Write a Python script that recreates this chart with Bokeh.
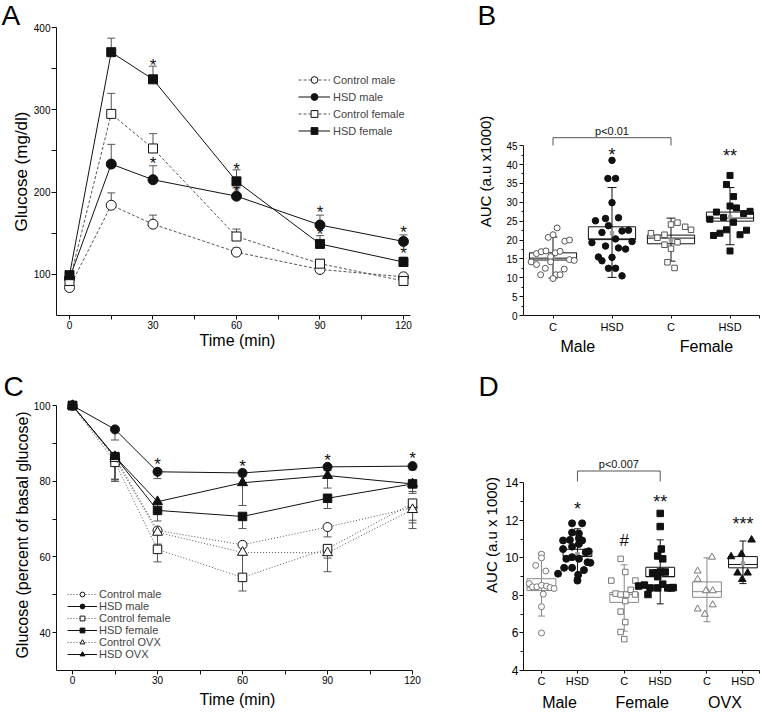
from bokeh.plotting import figure
from bokeh.models import (ColumnDataSource, Whisker, TeeHead, Legend, LegendItem,
                          FixedTicker, LinearAxis, Range1d)
from bokeh.layouts import column, row
from bokeh.embed import file_html
from bokeh.resources import INLINE
from bokeh.core.properties import value

FONT = "Liberation Sans"
BLACK = "#111111"
GRAY = "#555555"
LGRAY = "#888888"

# ---------------- Panel A data (glucose tolerance, mg/dl) ----------------
time_pts = [0, 15, 30, 60, 90, 120]
a_names = ["Control male", "HSD male", "Control female", "HSD female"]
a_ctrl_male = [84, 184, 161, 127, 106, 97]
a_hsd_male = [95, 234, 215, 195, 160, 140]
a_ctrl_female = [92, 295, 253, 146, 113, 92]
a_hsd_female = [99, 370, 337, 213, 137, 115]
a_ctrl_male_err = [0, 15, 11, 5, 3, 3]
a_hsd_male_err = [0, 24, 17, 10, 12, 8]
a_ctrl_female_err = [0, 25, 18, 9, 5, 5]
a_hsd_female_err = [0, 17, 16, 14, 10, 6]
a_star_t = [30, 30, 60, 60, 90, 90, 120, 120]
a_star_y = [358, 238, 231, 204, 179, 152, 155, 129]

# ---------------- Panel B data (AUC x1000) ----------------
b_pos = [1, 2, 3, 4]
b_cat_labels = ["C", "HSD", "C", "HSD"]
b_sex_labels = ["Male", "Female"]
b_sex_label_pos = [1.42, 3.6]
b_q1 = [14.7, 20.1, 19.0, 25.0]
b_q3 = [16.6, 23.5, 21.3, 27.4]
b_median = [15.2, 20.3, 20.5, 25.8]
b_mean = [15.5, 21.8, 19.9, 26.1]
b_lo = [9.9, 10.1, 14.4, 18.75]
b_hi = [20.8, 33.9, 25.8, 33.9]
b_ctrl_male = [23.2, 20.7, 21.4, 19.7, 20.0, 16.4, 16.9, 17.1, 16.6, 17.0, 15.6, 14.2,
               13.5, 14.2, 14.8, 14.6, 12.5, 12.3, 10.8, 10.8, 10.8, 9.8]
b_ctrl_male_jit = [0.07, -0.08, 0.0, 0.2, 0.28, -0.28, -0.2, -0.12, 0.04, 0.12, -0.04, -0.37,
                   -0.28, -0.04, 0.28, 0.36, -0.13, 0.19, -0.21, 0.05, 0.12, 0.0]
b_hsd_male = [41.1, 36.3, 36.3, 29.9, 25.1, 25.7, 25.9, 23.8, 22.0, 22.4, 22.6, 19.3,
              19.6, 20.3, 18.4, 17.9, 17.6, 15.5, 14.5, 15.4, 12.5, 12.5, 10.5]
b_hsd_male_jit = [0.0, -0.07, 0.06, 0.0, -0.28, -0.11, 0.11, -0.06, -0.17, 0.17, 0.28, -0.34,
                  0.34, 0.06, -0.11, 0.11, 0.23, -0.23, -0.17, 0.0, -0.06, 0.06, 0.17]
b_ctrl_female = [21.8, 20.6, 21.4, 24.1, 24.6, 23.5, 22.7, 19.4, 18.75, 17.7, 14.1, 12.6]
b_ctrl_female_jit = [-0.34, -0.23, -0.11, 0.0, 0.11, 0.24, 0.34, 0.11, -0.11, 0.0, -0.06, 0.06]
b_hsd_female = [37.1, 34.7, 31.5, 29.0, 28.5, 25.5, 27.4, 26.0, 24.7, 27.0, 27.6, 21.2,
                21.8, 22.7, 21.4, 22.6, 17.1]
b_hsd_female_jit = [0.0, -0.06, 0.06, 0.0, 0.11, -0.34, -0.23, -0.11, 0.06, 0.23, 0.34, -0.28,
                    -0.17, -0.06, 0.17, 0.28, 0.0]
b_bracket = (1, 3)
b_bracket_y = 47.1
b_bracket_leg = 45.05
b_pvalue = "p<0.01"
b_star_x = [2, 4]
b_star_text = ["*", "**"]
b_star_y = [43.3, 43.0]

# ---------------- Panel C data (% of basal glucose) ----------------
c_names = ["Control male", "HSD male", "Control female", "HSD female", "Control OVX", "HSD OVX"]
c_ctrl_male = [100, 86.5, 67, 63.2, 67.9, 73]
c_hsd_male = [100, 93.7, 82.5, 82.2, 83.8, 84]
c_ctrl_female = [100, 85, 62, 54.6, 62.2, 74.2]
c_hsd_female = [100, 86.5, 72.3, 70.7, 75.5, 79.3]
c_ctrl_ovx = [100, 86, 66.5, 61.2, 61.1, 72.5]
c_hsd_ovx = [100, 86.5, 74.6, 79.6, 81.5, 79.3]
c_ctrl_male_err = [0, 6, 3.6, 2.5, 2.6, 4]
c_hsd_male_err = [0, 2.8, 1.8, 1, 1, 1]
c_ctrl_female_err = [0, 5, 3.3, 3.6, 2.5, 4.5]
c_hsd_female_err = [0, 6, 2.8, 3.2, 2.7, 2]
c_ctrl_ovx_err = [0, 5.5, 4, 6, 5, 5]
c_hsd_ovx_err = [0, 6.5, 3, 6, 3.3, 2.5]
c_star_t = [30, 60, 90, 120]
c_star_y = [85.2, 84.7, 86.3, 86.9]

# ---------------- Panel D data (AUC x1000) ----------------
d_pos = [1, 2, 3.3, 4.3, 5.6, 6.6]
d_cat_labels = ["C", "HSD", "C", "HSD", "C", "HSD"]
d_group_labels = ["Male", "Female", "OVX"]
d_q1 = [8.26, 10.07, 7.63, 9.0, 7.9, 9.47]
d_q3 = [8.89, 10.46, 8.16, 9.5, 8.72, 10.07]
d_median = [8.44, 10.1, 8.05, 9.0, 8.2, 9.65]
d_mean = [8.5, 10.2, 8.0, 9.1, 8.25, 9.7]
d_lo = [6.9, 8.95, 6.1, 7.55, 6.6, 8.63]
d_hi = [10.26, 11.55, 9.63, 10.96, 10.0, 10.9]
d_ctrl_male = [10.2, 10.0, 9.6, 9.3, 8.63, 8.46, 8.46, 8.54, 8.5, 8.42, 8.37, 8.07, 7.4, 6.0]
d_ctrl_male_jit = [0.0, 0.0, -0.16, 0.12, -0.34, -0.25, -0.13, 0.0, 0.14, 0.24, 0.35, 0.05, 0.0, 0.0]
d_hsd_male = [11.84, 11.84, 11.35, 11.3, 10.93, 10.96, 11.04, 10.93, 10.74, 10.47, 10.6, 10.3,
              10.35, 9.95, 10.04, 9.95, 9.77, 9.74, 9.47, 9.47, 9.35, 9.16, 9.1, 8.79]
d_hsd_male_jit = [-0.15, 0.13, -0.15, 0.04, -0.4, -0.21, 0.04, 0.13, 0.04, -0.4, -0.15, 0.23,
                  0.31, -0.31, -0.15, 0.04, 0.28, 0.36, -0.37, -0.15, 0.18, -0.54, 0.02, 0.0]
d_ctrl_female = [9.95, 9.25, 8.79, 8.79, 8.1, 8.05, 8.05, 8.3, 8.05, 7.7, 7.14, 6.58, 6.05, 5.67]
d_ctrl_female_jit = [-0.1, 0.03, -0.36, 0.31, -0.24, -0.1, 0.06, 0.18, 0.3, 0.03, -0.1, 0.03, -0.1, 0.0]
d_hsd_female = [12.37, 11.67, 10.47, 10.1, 9.95, 9.2, 9.2, 9.25, 9.25, 9.0, 8.5, 8.55, 8.4, 8.4,
                8.6, 8.4, 8.4, 8.42, 8.05]
d_hsd_female_jit = [0.0, 0.0, 0.03, -0.07, 0.07, -0.21, -0.09, 0.0, 0.14, -0.07, -0.6, -0.44,
                    -0.28, -0.07, 0.07, 0.21, 0.31, 0.36, -0.34]
d_ctrl_ovx = [10.04, 9.3, 8.86, 8.25, 8.25, 7.28, 7.5, 7.0]
d_ctrl_ovx_jit = [0.14, -0.26, -0.26, -0.03, 0.16, -0.26, 0.16, -0.06]
d_hsd_ovx = [10.07, 10.2, 10.96, 9.2, 9.2, 8.86]
d_hsd_ovx_jit = [-0.33, -0.04, 0.24, -0.15, 0.13, -0.02]
d_bracket = (2, 4.3)
d_bracket_y = 14.63
d_bracket_leg = 14.07
d_pvalue = "p<0.007"
d_star_x = [2, 4.3, 6.6]
d_star_text = ["*", "**", "***"]
d_star_y = [12.79, 13.16, 11.95]
d_hash_x = [3.3]
d_hash_y = [10.95]


# ---------------- helpers ----------------
def new_fig(width, height, xr, yr, left, right, top, bottom, letter, letter_offset, letter_standoff):
    p = figure(width=width, height=height, x_range=Range1d(*xr), y_range=Range1d(*yr),
               min_border_left=left, min_border_right=right, min_border_top=top,
               min_border_bottom=bottom, toolbar_location=None, tools="",
               output_backend="svg", title=letter)
    p.xgrid.visible = False
    p.ygrid.visible = False
    p.outline_line_color = None
    p.background_fill_color = "white"
    p.border_fill_color = "white"
    p.title.text_font = FONT
    p.title.text_font_size = "28px"
    p.title.text_font_style = "normal"
    p.title.text_color = "black"
    p.title.align = "left"
    p.title.offset = letter_offset
    p.title.standoff = letter_standoff
    return p


def style_axis(ax, ticks, minor=None, overrides=None, font_size="10px",
               tick_out=4, minor_out=4, standoff=2, bounds=None):
    ax.ticker = FixedTicker(ticks=list(ticks), minor_ticks=list(minor or []))
    if overrides is not None:
        ax.major_label_overrides = overrides
    if bounds is not None:
        ax.bounds = bounds
    ax.axis_line_color = BLACK
    ax.axis_line_width = 1
    ax.major_tick_line_color = BLACK
    ax.minor_tick_line_color = BLACK
    ax.major_tick_in = 0
    ax.minor_tick_in = 0
    ax.major_tick_out = tick_out
    ax.minor_tick_out = minor_out
    ax.major_label_standoff = standoff
    ax.major_label_text_font = FONT
    ax.major_label_text_font_size = font_size
    ax.major_label_text_color = "black"
    ax.axis_label_text_font = FONT
    ax.axis_label_text_font_style = "normal"
    ax.axis_label_text_color = "black"


def group_axis(p, centers, labels, standoff):
    ax = LinearAxis(ticker=FixedTicker(ticks=list(centers)),
                    major_label_overrides={c: l for c, l in zip(centers, labels)})
    ax.axis_line_color = None
    ax.major_tick_line_color = None
    ax.minor_tick_line_color = None
    ax.major_tick_in = 0
    ax.major_tick_out = 0
    ax.major_label_standoff = standoff
    ax.major_label_text_font = FONT
    ax.major_label_text_font_size = "16px"
    ax.major_label_text_color = "black"
    p.add_layout(ax, "below")


def stars(p, xs, ys, texts, size, yoff):
    src = ColumnDataSource(dict(x=xs, y=ys, t=texts))
    p.text(x="x", y="y", text="t", source=src, text_font=value(FONT),
           text_font_size=value(size), text_align="center", text_baseline="alphabetic",
           y_offset=yoff, text_color=BLACK)


def bracket(p, pair, y, leg, label):
    xs = [pair[0], pair[0], pair[1], pair[1]]
    ys = [leg, y, y, leg]
    p.line(x=xs, y=ys, line_color=GRAY, line_width=1)
    src = ColumnDataSource(dict(x=[sum(pair) / 2], y=[y], t=[label]))
    p.text(x="x", y="y", text="t", source=src, text_font=value(FONT),
           text_font_size=value("11px"), text_align="center", text_baseline="bottom",
           y_offset=-1, text_color=BLACK)


def box_plot(p, pos, q1, q3, med, mean, lo, hi, colors, cap):
    for i in range(len(pos)):
        src = ColumnDataSource(dict(x=[pos[i]], q1=[q1[i]], q3=[q3[i]], med=[med[i]],
                                    mean=[mean[i]], lo=[lo[i]], hi=[hi[i]],
                                    x0=[pos[i] - 0.4], x1=[pos[i] + 0.4]))
        col = colors[i]
        p.add_layout(Whisker(base="x", lower="lo", upper="hi", source=src, line_color=col,
                             line_width=1,
                             upper_head=TeeHead(size=cap, line_color=col, line_width=1),
                             lower_head=TeeHead(size=cap, line_color=col, line_width=1)))
        p.vbar(x="x", width=0.8, bottom="q1", top="q3", source=src, fill_color=None,
               line_color=col, line_width=1)
        p.segment(x0="x0", y0="med", x1="x1", y1="med", source=src, line_color=col,
                  line_width=1)
        p.scatter(x="x", y="mean", source=src, marker="square", size=3.5,
                  fill_color="#9a9a9a", line_color="#9a9a9a")


def dots(p, center, vals, jit, marker, filled, size, color):
    src = ColumnDataSource(dict(x=[center + j for j in jit], y=vals))
    p.scatter(x="x", y="y", source=src, marker=marker, size=size,
              fill_color=color if filled else "white", line_color=color, line_width=1)


# layout geometry (page pixels): columns 0..425 and 425..762, rows 0..357 and 357..713
W1, W2, H1, H2 = 425, 337, 357, 356

# ================= Panel A =================
pA = new_fig(W1, H1, (-4.67, 125.4), (50, 400), 56, 7, 25, 39, "A", -55, -6)
style_axis(pA.xaxis[0], [0, 30, 60, 90, 120], [15, 45, 75, 105], tick_out=4, minor_out=4,
           standoff=1, bounds=(-4.67, 122.5))
style_axis(pA.yaxis[0], [100, 200, 300, 400], [150, 250, 350], tick_out=5, minor_out=5,
           standoff=1, bounds=(50, 400))
pA.xaxis.axis_label = "Time (min)"
pA.xaxis.axis_label_text_font_size = "16px"
pA.xaxis.axis_label_standoff = 0
pA.yaxis.axis_label = "Glucose (mg/dl)"
pA.yaxis.axis_label_text_font_size = "17px"
pA.yaxis.axis_label_standoff = 0

a_series = [
    (a_names[0], a_ctrl_male, a_ctrl_male_err, "circle", False),
    (a_names[1], a_hsd_male, a_hsd_male_err, "circle", True),
    (a_names[2], a_ctrl_female, a_ctrl_female_err, "square", False),
    (a_names[3], a_hsd_female, a_hsd_female_err, "square", True),
]
a_items = []
for name, vals, err, marker, filled in a_series:
    src = ColumnDataSource(dict(t=time_pts, y=vals, hi=[v + e for v, e in zip(vals, err)]))
    pA.add_layout(Whisker(base="t", lower="y", upper="hi", source=src, line_color=GRAY,
                          line_width=1, lower_head=None,
                          upper_head=TeeHead(size=8, line_color=GRAY, line_width=1)))
    lr = pA.line("t", "y", source=src, line_color=BLACK if filled else GRAY, line_width=1,
                 line_dash="solid" if filled else "3 2")
    sr = pA.scatter("t", "y", source=src, marker=marker, size=10 if marker == "circle" else 9,
                    fill_color=BLACK if filled else "white", line_color=BLACK, line_width=1)
    a_items.append(LegendItem(label=name, renderers=[lr, sr]))
legA = Legend(items=a_items, location=(242, 176), padding=0, margin=0, spacing=0,
              glyph_width=32, glyph_height=17, label_height=17, label_standoff=3,
              label_text_font=FONT, label_text_font_size="11px", border_line_color=None,
              background_fill_alpha=0)
pA.add_layout(legA)
stars(pA, a_star_t, a_star_y, ["*"] * len(a_star_t), "17px", 3)

# ================= Panel B =================
pB = new_fig(W2, H1, (0.5, 4.5), (0, 76.3), 98, 3, 25, 39, "B", -46, -6)
b_over = {p_: l for p_, l in zip(b_pos, b_cat_labels)}
b_over[4.5] = ""
style_axis(pB.xaxis[0], b_pos + [4.5], None, overrides=b_over, font_size="11px",
           tick_out=3, standoff=2)
style_axis(pB.yaxis[0], list(range(0, 50, 5)), [2.5 + 5 * i for i in range(9)],
           font_size="10px", tick_out=4, minor_out=2, standoff=2, bounds=(0, 45))
pB.yaxis.axis_label = "AUC (a.u x1000)"
pB.yaxis.axis_label_text_font_size = "15px"
pB.yaxis.axis_label_standoff = 9
group_axis(pB, b_sex_label_pos, b_sex_labels, 2)
box_plot(pB, b_pos, b_q1, b_q3, b_median, b_mean, b_lo, b_hi, [BLACK] * 4, 9)
dots(pB, b_pos[0], b_ctrl_male, b_ctrl_male_jit, "circle", False, 6, GRAY)
dots(pB, b_pos[1], b_hsd_male, b_hsd_male_jit, "circle", True, 6.5, BLACK)
dots(pB, b_pos[2], b_ctrl_female, b_ctrl_female_jit, "square", False, 5.5, GRAY)
dots(pB, b_pos[3], b_hsd_female, b_hsd_female_jit, "square", True, 6, BLACK)
bracket(pB, b_bracket, b_bracket_y, b_bracket_leg, b_pvalue)
stars(pB, b_star_x, b_star_y, b_star_text, "18px", 3)

# ================= Panel C =================
pC = new_fig(W1, H2, (-5.65, 122.1), (30, 101.6), 56, 7, 42, 41, "C", -53, -4)
style_axis(pC.xaxis[0], [0, 30, 60, 90, 120], [15, 45, 75, 105], tick_out=4, minor_out=4,
           standoff=1, bounds=(-5.65, 120))
style_axis(pC.yaxis[0], [40, 60, 80, 100], [50, 70, 90], tick_out=4, minor_out=4,
           standoff=2, bounds=(30, 100))
pC.xaxis.axis_label = "Time (min)"
pC.xaxis.axis_label_text_font_size = "16px"
pC.xaxis.axis_label_standoff = 4
pC.yaxis.axis_label = "Glucose (percent of basal glucose)"
pC.yaxis.axis_label_text_font_size = "16px"
pC.yaxis.axis_label_standoff = 0

c_series = [
    (c_names[0], c_ctrl_male, c_ctrl_male_err, "circle", False),
    (c_names[1], c_hsd_male, c_hsd_male_err, "circle", True),
    (c_names[2], c_ctrl_female, c_ctrl_female_err, "square", False),
    (c_names[3], c_hsd_female, c_hsd_female_err, "square", True),
    (c_names[4], c_ctrl_ovx, c_ctrl_ovx_err, "triangle", False),
    (c_names[5], c_hsd_ovx, c_hsd_ovx_err, "triangle", True),
]
c_items = []
for name, vals, err, marker, filled in c_series:
    src = ColumnDataSource(dict(t=time_pts, y=vals, lo=[v - e for v, e in zip(vals, err)]))
    pC.add_layout(Whisker(base="t", lower="lo", upper="y", source=src, line_color=GRAY,
                          line_width=1, upper_head=None,
                          lower_head=TeeHead(size=8, line_color=GRAY, line_width=1)))
    lr = pC.line("t", "y", source=src, line_color=BLACK if filled else GRAY, line_width=1,
                 line_dash="solid" if filled else "1 2")
    sr = pC.scatter("t", "y", source=src, marker=marker,
                    size={"circle": 9, "square": 8.5, "triangle": 10}[marker],
                    fill_color=BLACK if filled else "white", line_color=BLACK, line_width=1)
    c_items.append(LegendItem(label=name, renderers=[lr, sr]))
legC = Legend(items=c_items, location=(11, 10), padding=0, margin=0, spacing=0,
              glyph_width=30, glyph_height=12, label_height=12, label_standoff=2,
              label_text_font=FONT, label_text_font_size="11px", border_line_color=None,
              background_fill_alpha=0)
pC.add_layout(legC)
stars(pC, c_star_t, c_star_y, ["*"] * len(c_star_t), "17px", 3)

# ================= Panel D =================
pD = new_fig(W2, H2, (0.5, 7.06), (4, 18.44), 98, 3, 42, 41, "D", -45, -4)
d_over = {p_: l for p_, l in zip(d_pos, d_cat_labels)}
d_over[7.06] = ""
style_axis(pD.xaxis[0], d_pos + [7.06], None, overrides=d_over, font_size="11px",
           tick_out=3, standoff=1)
style_axis(pD.yaxis[0], [4, 6, 8, 10, 12, 14], [5, 7, 9, 11, 13], font_size="12px",
           tick_out=4, minor_out=3, standoff=1, bounds=(4, 14))
pD.yaxis.axis_label = "AUC (a.u x 1000)"
pD.yaxis.axis_label_text_font_size = "15px"
pD.yaxis.axis_label_standoff = 2
group_axis(pD, [(d_pos[i] + d_pos[i + 1]) / 2 for i in (0, 2, 4)], d_group_labels, 4)
d_colors = [LGRAY, BLACK, LGRAY, BLACK, LGRAY, BLACK]
box_plot(pD, d_pos, d_q1, d_q3, d_median, d_mean, d_lo, d_hi, d_colors, 7)
dots(pD, d_pos[0], d_ctrl_male, d_ctrl_male_jit, "circle", False, 6, "#777777")
dots(pD, d_pos[1], d_hsd_male, d_hsd_male_jit, "circle", True, 7, BLACK)
dots(pD, d_pos[2], d_ctrl_female, d_ctrl_female_jit, "square", False, 5.5, "#777777")
dots(pD, d_pos[3], d_hsd_female, d_hsd_female_jit, "square", True, 6.5, BLACK)
dots(pD, d_pos[4], d_ctrl_ovx, d_ctrl_ovx_jit, "triangle", False, 7, "#777777")
dots(pD, d_pos[5], d_hsd_ovx, d_hsd_ovx_jit, "triangle", True, 7.5, BLACK)
bracket(pD, d_bracket, d_bracket_y, d_bracket_leg, d_pvalue)
stars(pD, d_star_x, d_star_y, d_star_text, "18px", 3)
stars(pD, d_hash_x, d_hash_y, ["#"], "17px", 0)

layout = column(row(pA, pB), row(pC, pD))
open("out.html", "w").write(file_html(layout, INLINE))
